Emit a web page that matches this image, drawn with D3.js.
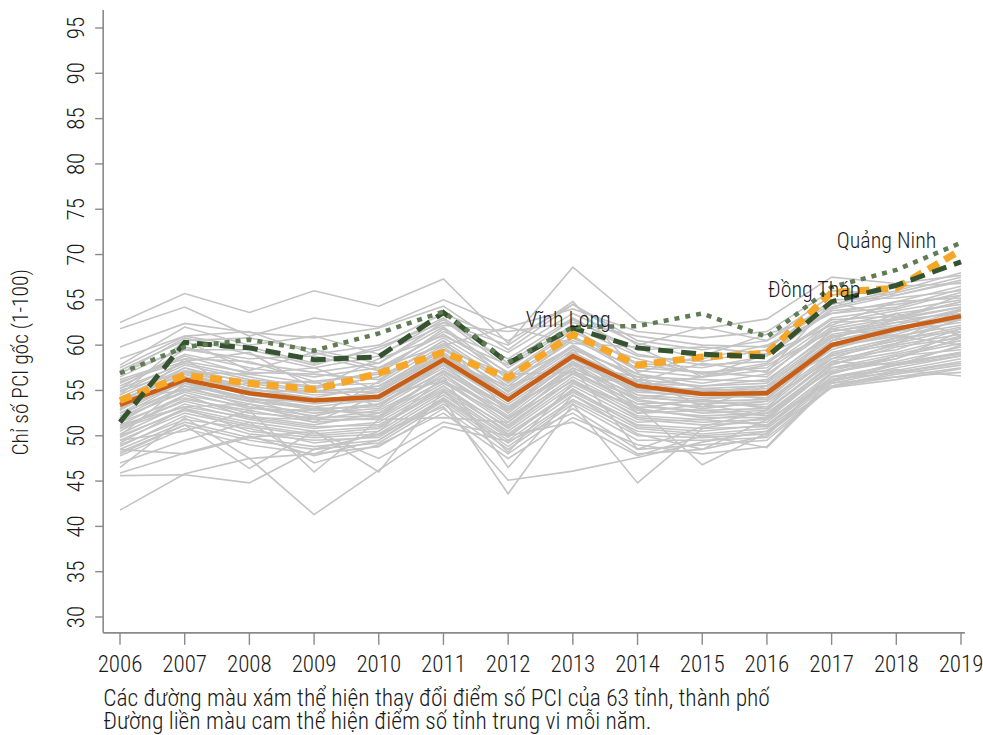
<!DOCTYPE html>
<html><head><meta charset="utf-8">
<script src="https://cdn.jsdelivr.net/npm/d3@7"></script>
<style>
body{margin:0;background:#fff;}
svg text{font-family:"Roboto Condensed","Roboto",sans-serif;font-stretch:condensed;font-weight:300;fill:#1a1a1a;}
</style></head><body>
<svg id="c" width="983" height="735"></svg>
<script>
const years=[2006,2007,2008,2009,2010,2011,2012,2013,2014,2015,2016,2017,2018,2019];
const yTicks=[30,35,40,45,50,55,60,65,70,75,80,85,90,95];
const yTitle="Chỉ số PCI gốc (1-100)";
const captions=["Các đường màu xám thể hiện thay đổi điểm số PCI của 63 tỉnh, thành phố","Đường liền màu cam thể hiện điểm số tỉnh trung vi mỗi năm."];
const grayProvinces=[
[62.5,65.7,63.6,66.0,64.3,67.3,60.2,68.6,62.6,61.8,62.9,67.5,66.8,67.7],
[61.8,64.2,61.0,63.0,62.0,65.0,62.0,64.0,61.5,60.8,61.5,66.0,65.5,67.0],
[59.8,62.4,61.4,60.8,61.9,64.3,59.5,64.5,60.0,62.0,60.5,64.5,66.0,68.0],
[58.5,61.0,61.5,59.0,60.0,63.5,60.5,64.5,60.5,59.5,60.5,65.5,66.5,66.8],
[57.8,62.0,60.0,61.0,59.0,62.2,61.5,62.5,61.0,60.0,59.8,64.2,65.8,67.5],
[55.2,59.5,59.5,57.8,59.8,62.5,60.0,64.8,57.0,58.8,61.2,63.5,64.2,66.2],
[54.5,60.5,57.2,59.2,57.5,60.0,62.0,60.2,59.8,56.5,59.0,62.2,64.8,65.2],
[56.0,58.2,59.2,55.2,58.5,61.0,57.8,62.2,56.0,58.0,57.0,64.8,63.0,64.2],
[57.5,61.0,59.8,58.0,59.5,63.0,58.0,62.8,59.5,59.8,59.0,64.0,65.5,67.2],
[57.2,60.5,60.8,59.5,58.0,62.5,59.2,63.5,60.2,58.5,60.0,63.5,64.8,66.5],
[56.8,60.8,59.0,57.5,58.8,62.8,57.5,62.0,58.8,58.2,59.5,65.0,65.2,66.0],
[57.0,59.5,58.5,58.8,57.2,61.5,58.5,63.0,59.0,57.8,58.2,63.0,64.0,65.8],
[56.5,59.8,58.0,57.0,58.0,62.0,56.8,61.5,58.0,57.5,58.8,63.8,64.5,65.5],
[55.8,59.0,57.5,56.5,57.5,61.2,57.0,61.8,57.8,57.0,57.5,62.5,63.8,65.0],
[56.2,58.5,58.2,56.0,56.8,61.8,56.2,60.8,58.5,56.8,58.0,62.8,63.2,64.8],
[55.5,58.8,56.8,55.8,57.0,60.8,56.5,61.0,57.2,56.5,57.2,62.0,63.5,64.5],
[54.8,58.2,57.0,56.8,56.2,60.5,55.8,60.5,57.5,57.0,56.5,62.5,62.8,64.2],
[55.2,58.0,56.5,55.2,56.5,60.2,55.5,60.8,56.8,55.8,56.8,61.8,63.0,64.8],
[54.5,57.8,56.2,55.5,55.8,60.0,56.0,59.8,56.5,56.2,56.0,61.5,62.5,63.8],
[54.2,57.5,55.8,54.8,55.5,59.5,55.2,60.0,56.2,55.5,56.2,61.2,62.2,64.0],
[53.8,57.2,56.0,55.0,55.2,59.8,54.8,59.5,56.8,55.2,55.5,60.8,62.8,63.5],
[53.5,57.0,55.5,54.5,55.0,59.2,54.5,59.2,55.8,55.5,55.8,61.0,62.0,63.2],
[54.0,56.8,55.2,54.2,55.5,58.8,55.0,59.8,55.5,55.0,55.2,60.5,61.8,63.8],
[53.2,57.5,55.0,54.8,54.8,59.0,54.2,58.8,56.0,54.8,55.5,60.8,62.5,62.8],
[53.0,56.5,55.2,54.0,54.5,58.5,54.0,59.0,55.2,54.5,55.0,60.2,61.5,63.5],
[52.8,56.8,54.8,53.8,54.8,58.8,54.5,58.5,55.0,55.2,54.8,60.5,62.0,63.0],
[52.5,56.2,54.5,53.5,54.2,58.2,53.8,58.5,55.0,54.2,54.5,60.0,61.8,62.8],
[53.0,55.8,54.2,53.2,54.0,58.0,53.5,58.2,54.8,54.5,54.2,59.8,61.2,63.2],
[52.2,56.0,54.0,53.8,53.8,57.8,54.0,58.8,54.5,54.0,54.6,59.5,61.5,62.5],
[52.0,55.5,54.2,52.8,53.5,57.5,53.2,58.0,54.2,53.8,54.0,59.8,61.0,62.2],
[52.5,55.2,53.8,53.0,53.2,57.8,52.8,57.5,54.5,53.5,53.8,59.2,60.8,62.8],
[51.8,55.0,53.5,52.5,53.0,57.2,52.5,57.8,53.8,53.2,53.5,59.0,60.5,62.0],
[51.5,55.5,53.2,52.2,53.5,57.0,53.0,57.2,53.5,53.8,53.2,58.8,60.2,61.8],
[52.0,54.8,53.0,52.8,52.5,56.8,52.2,57.5,54.0,53.0,53.8,58.5,60.8,61.5],
[51.2,54.5,53.2,51.8,52.8,56.5,52.0,56.8,53.2,52.8,53.0,58.2,60.0,61.2],
[51.5,54.2,52.5,52.0,52.2,56.8,51.8,57.0,53.5,52.5,52.8,58.5,59.5,61.8],
[50.8,54.0,52.8,51.5,52.0,56.2,51.5,56.5,52.8,52.2,52.5,57.8,59.8,60.8],
[51.0,53.8,52.2,51.2,52.5,56.0,51.2,56.2,52.5,52.8,52.2,58.0,59.2,61.0],
[50.5,54.5,52.0,51.8,51.8,55.8,52.0,56.0,53.0,52.0,52.0,57.5,59.0,60.5],
[50.2,53.5,51.8,50.8,51.5,55.5,50.8,55.8,52.2,51.8,52.5,57.2,58.8,60.2],
[50.8,53.2,52.0,51.0,51.2,55.2,51.0,56.2,52.0,51.5,51.8,57.5,58.5,60.8],
[49.8,53.0,51.5,50.5,51.0,55.0,50.5,55.5,51.8,51.2,51.5,57.0,58.2,59.8],
[50.0,52.8,51.2,50.2,50.8,55.5,50.2,55.0,51.5,51.8,51.2,56.8,58.8,59.5],
[49.5,52.5,51.0,50.0,50.5,54.8,50.0,54.8,51.2,50.8,51.0,56.5,57.8,59.2],
[49.2,53.0,50.5,49.8,50.2,54.5,49.8,55.2,51.0,50.5,51.2,56.2,58.0,59.0],
[48.8,52.2,50.2,49.5,49.8,54.2,49.5,54.5,50.8,50.2,50.8,56.0,57.5,58.8],
[49.0,51.8,50.8,49.2,50.0,54.0,49.2,54.0,50.5,50.0,50.5,55.8,57.2,58.5],
[48.5,51.5,49.8,48.8,49.5,53.8,48.8,53.8,50.0,49.8,50.2,55.5,57.0,58.2],
[48.2,51.2,49.5,48.5,49.2,53.5,48.5,53.5,49.5,49.5,49.8,55.5,56.8,57.8],
[47.8,50.8,49.0,48.0,48.8,53.0,48.0,53.0,48.5,49.0,49.5,55.4,56.5,57.5],
[55.0,57.0,56.8,57.5,55.0,59.5,56.8,57.0,55.5,56.5,57.8,61.5,62.8,65.5],
[52.8,58.5,54.0,52.0,56.0,60.5,52.5,59.5,53.0,54.0,53.0,60.5,63.5,61.0],
[54.2,55.0,55.8,56.0,53.2,58.2,55.5,57.8,56.5,53.2,55.5,59.0,60.5,64.0],
[50.0,55.8,53.8,53.2,52.0,57.2,53.2,56.8,54.2,55.0,54.0,61.8,61.0,60.0],
[51.2,53.2,53.5,51.5,54.5,56.0,52.8,58.2,52.5,53.5,52.2,57.8,60.2,63.0],
[45.6,45.7,44.8,48.5,50.2,53.2,45.1,46.1,47.6,49.3,50.5,55.3,56.2,57.4],
[41.8,45.8,47.5,41.3,46.2,51.0,49.4,52.5,48.0,48.5,51.8,56.0,57.8,58.8],
[45.9,48.1,50.0,47.8,49.5,54.0,43.6,53.5,44.8,50.8,52.0,57.5,58.0,59.2],
[48.0,51.2,46.4,50.5,46.0,55.0,48.2,55.8,53.2,46.8,50.3,56.5,57.3,56.6],
[47.0,49.5,51.5,47.0,49.0,52.5,47.5,52.0,49.0,48.0,48.8,56.2,57.0,58.0],
[48.5,48.0,49.8,50.5,47.5,51.5,50.0,51.5,47.8,50.0,48.7,55.8,56.5,57.0],
[46.5,52.0,47.5,48.0,50.5,56.5,46.5,54.5,50.2,48.5,50.0,57.0,58.5,61.5],
[49.5,50.5,52.8,46.0,51.8,52.0,51.5,57.5,48.5,51.0,52.8,58.2,57.8,60.0]
];
const median=[53.4,56.2,54.7,53.9,54.3,58.4,54.0,58.8,55.5,54.6,54.7,60.0,61.8,63.2];
const dongThap=[53.9,56.7,55.8,55.1,56.9,59.2,56.4,61.2,57.8,58.7,59.1,65.8,66.3,70.5];
const vinhLong=[51.5,60.3,59.7,58.4,58.7,63.6,58.0,61.9,59.7,59.0,58.7,64.8,66.6,69.2];
const quangNinh=[56.9,59.8,60.6,59.4,61.3,63.7,58.1,62.0,62.1,63.5,60.9,66.4,68.3,71.3];
const labels=[{text:"Quảng Ninh",year:2017.85,value:70.7},{text:"Đồng Tháp",year:2016.73,value:65.3},{text:"Vĩnh Long",year:2012.93,value:62.0}];

const svg=d3.select("#c");
const x=d3.scaleLinear().domain([2006,2019]).range([120,961]);
const y=d3.scaleLinear().domain([30,95]).range([617,28]);
const line=d3.line().x((d,i)=>x(years[i])).y(d=>y(d));

svg.append("g").selectAll("path").data(grayProvinces).join("path")
 .attr("d",line).attr("fill","none").attr("stroke","#c4c4c4").attr("stroke-width",1.6);

svg.append("path").datum(median).attr("d",line).attr("fill","none").attr("stroke","#c95f16").attr("stroke-width",4.5);
svg.append("path").datum(dongThap).attr("d",line).attr("fill","none").attr("stroke","#f6a728").attr("stroke-width",7).attr("stroke-dasharray","12,7");
svg.append("path").datum(vinhLong).attr("d",line).attr("fill","none").attr("stroke","#35532f").attr("stroke-width",5).attr("stroke-dasharray","15,8");
svg.append("path").datum(quangNinh).attr("d",line).attr("fill","none").attr("stroke","#5f7c55").attr("stroke-width",4.5).attr("stroke-dasharray","5,6");

svg.append("g").selectAll("text").data(labels).join("text")
 .attr("x",d=>x(d.year)).attr("y",d=>y(d.value)).attr("text-anchor","middle")
 .attr("font-size",22).text(d=>d.text);

const axColor="#8a8a8a";
svg.append("line").attr("x1",x(2005.74)).attr("x2",x(2005.74)).attr("y1",y(97)).attr("y2",y(28.25)).attr("stroke",axColor).attr("stroke-width",1.6);
svg.append("line").attr("x1",x(2005.74)).attr("x2",x(2019.06)).attr("y1",y(28.25)).attr("y2",y(28.25)).attr("stroke",axColor).attr("stroke-width",1.6);

const yAxis=svg.append("g");
yAxis.selectAll("line").data(yTicks).join("line")
 .attr("x1",x(2005.74)-8).attr("x2",x(2005.74)).attr("y1",d=>y(d)).attr("y2",d=>y(d)).attr("stroke",axColor).attr("stroke-width",1.4);
yAxis.selectAll("text").data(yTicks).join("text")
 .attr("transform",d=>`translate(${x(2005.74)-19},${y(d)}) rotate(-90)`)
 .attr("text-anchor","middle").attr("font-size",23).text(d=>d);

const xAxis=svg.append("g");
xAxis.selectAll("line").data(years).join("line")
 .attr("x1",d=>x(d)).attr("x2",d=>x(d)).attr("y1",y(28.25)).attr("y2",y(28.25)+12).attr("stroke",axColor).attr("stroke-width",1.4);
xAxis.selectAll("text").data(years).join("text")
 .attr("x",d=>x(d)).attr("y",y(28.25)+39).attr("text-anchor","middle").attr("font-size",23).text(d=>d);

svg.append("text").attr("transform",`translate(28,${y(58.1)}) rotate(-90)`).attr("text-anchor","middle").attr("font-size",21.5).text(yTitle);

svg.append("g").selectAll("text").data(captions).join("text")
 .attr("x",x(2005.74)).attr("y",(d,i)=>706+i*23).attr("font-size",23.5).text(d=>d);
</script>
</body></html>
